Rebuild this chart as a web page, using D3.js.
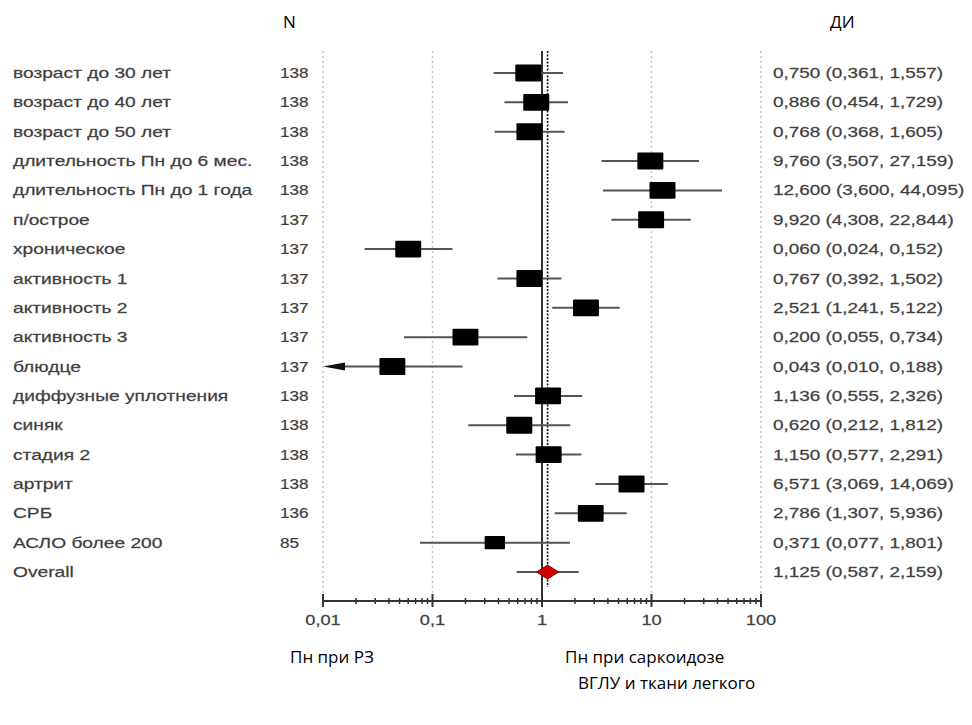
<!DOCTYPE html>
<html>
<head>
<meta charset="utf-8">
<script src="https://cdn.jsdelivr.net/npm/d3@7"></script>
<style>
  body { margin: 0; background: #fff; }
  svg { display: block; }
</style>
</head>
<body>
<svg id="forest" width="972" height="725"></svg>
<script>
// row labels, sample sizes and odds ratios with 95% CI
let labels = ["возраст до 30 лет", "возраст до 40 лет", "возраст до 50 лет",
  "длительность Пн до 6 мес.", "длительность Пн до 1 года", "п/острое", "хроническое",
  "активность 1", "активность 2", "активность 3", "блюдце", "диффузные уплотнения",
  "синяк", "стадия 2", "артрит", "СРБ", "АСЛО более 200", "Overall"];
let nValues = [138, 138, 138, 138, 138, 137, 137, 137, 137, 137, 137, 138, 138, 138, 138, 136, 85, null];
let estimates = [0.750, 0.886, 0.768, 9.760, 12.600, 9.920, 0.060, 0.767, 2.521, 0.200, 0.043,
  1.136, 0.620, 1.150, 6.571, 2.786, 0.371, 1.125];
let lowers = [0.361, 0.454, 0.368, 3.507, 3.600, 4.308, 0.024, 0.392, 1.241, 0.055, 0.010,
  0.555, 0.212, 0.577, 3.069, 1.307, 0.077, 0.587];
let uppers = [1.557, 1.729, 1.605, 27.159, 44.095, 22.844, 0.152, 1.502, 5.122, 0.734, 0.188,
  2.326, 1.812, 2.291, 14.069, 5.936, 1.801, 2.159];
let tickValues = [0.01, 0.1, 1, 10, 100];
let tickLabels = ["0,01", "0,1", "1", "10", "100"];

let chart = {
  "left": 323,
  "right": 761,
  "top": 51,
  "firstRow": 73,
  "lastRow": 572,
  "axisY": 601
};

let svg = d3.select("#forest");
let labelFont = "'Liberation Sans', Arial, sans-serif";
let titleFont = "'Open Sans', 'Noto Sans', sans-serif";

let x = d3.scaleLog()
  .domain([0.01, 100])
  .range([chart.left, chart.right]);

let y = d3.scalePoint()
  .domain(d3.range(labels.length))
  .range([chart.firstRow, chart.lastRow]);

let boxScale = d3.scaleSqrt()
  .domain([0, 138])
  .range([0, 26]);

let fmt = function(v) { return d3.format(".3f")(v).replace(".", ","); };

// the source picture is stretched sideways, so the small text is too
function smallText(px, py, txt, stretch, anchor) {
  return svg.append("text")
    .attr("transform", "translate(" + px + "," + py + ") scale(" + stretch + ",1)")
    .attr("dy", "0.36em")
    .text(txt)
    .style("text-anchor", anchor || "start")
    .style("font-family", labelFont)
    .style("font-size", "14px")
    .style("fill", "#3a3a3a")
    .style("stroke", "#555")
    .style("stroke-width", 0.25);
}

// vertical dotted grid at decades
for (var t of tickValues) {
  if (t === 1) continue;
  svg.append("line")
    .attr("x1", x(t)).attr("x2", x(t))
    .attr("y1", chart.top).attr("y2", chart.axisY - 2)
    .style("stroke", "#c4c4c4")
    .style("stroke-width", 1.5)
    .style("stroke-dasharray", "2,3");
}

// line of no effect
svg.append("line")
  .attr("x1", x(1)).attr("x2", x(1))
  .attr("y1", chart.top).attr("y2", chart.axisY + 6)
  .style("stroke", "#333")
  .style("stroke-width", 2);

// overall estimate dotted line
let overall = labels.length - 1;
svg.append("line")
  .attr("x1", x(estimates[overall])).attr("x2", x(estimates[overall]))
  .attr("y1", chart.top).attr("y2", chart.axisY - 14)
  .style("stroke", "#111")
  .style("stroke-width", 1.6)
  .style("stroke-dasharray", "2,1.5");

// rows
labels.forEach(function(lab, i) {
  let cy = y(i);

  smallText(13, cy, lab, 1.37);
  if (nValues[i] !== null) smallText(280, cy, nValues[i], 1.22);
  smallText(773, cy, fmt(estimates[i]) + " (" + fmt(lowers[i]) + ", " + fmt(uppers[i]) + ")", 1.35);

  // confidence interval
  let lo = Math.max(lowers[i], 0.01);
  let arrow = lowers[i] <= 0.01;
  svg.append("line")
    .attr("x1", arrow ? x(lo) + 20 : x(lo))
    .attr("x2", x(Math.min(uppers[i], 100)))
    .attr("y1", cy).attr("y2", cy)
    .style("stroke", "#555")
    .style("stroke-width", 2);
  if (arrow) {
    svg.append("path")
      .attr("d", "M" + x(lo) + "," + cy + "L" + (x(lo) + 22) + "," + (cy - 4) +
        "L" + (x(lo) + 22) + "," + (cy + 4) + "Z")
      .style("fill", "#111");
  }

  if (i === overall) {
    let cx = x(estimates[i]);
    svg.append("path")
      .attr("d", "M" + (cx - 11) + "," + cy + "L" + cx + "," + (cy - 7) +
        "L" + (cx + 11) + "," + cy + "L" + cx + "," + (cy + 7) + "Z")
      .style("fill", "#d40000")
      .style("stroke", "#7a0000")
      .style("stroke-width", 1);
  } else {
    let w = boxScale(nValues[i]);
    let h = w * 0.65;
    svg.append("rect")
      .attr("x", x(estimates[i]) - w / 2)
      .attr("y", cy - h / 2)
      .attr("width", w)
      .attr("height", h)
      .attr("rx", 1)
      .style("fill", "#000");
  }
});

// log axis with major and minor ticks
let minorTicks = [];
for (var d = 0; d < 4; d++) {
  for (var m = 2; m <= 9; m++) minorTicks.push(m * tickValues[d]);
}
let axisG = svg.append("g")
  .attr("transform", "translate(0," + chart.axisY + ")");
axisG.append("line")
  .attr("x1", x(0.01)).attr("x2", x(100))
  .style("stroke", "#333")
  .style("stroke-width", 2);
axisG.selectAll(".minor")
  .data(minorTicks)
  .enter().append("line")
  .attr("class", "minor")
  .attr("x1", d => x(d)).attr("x2", d => x(d))
  .attr("y1", -3).attr("y2", 3)
  .style("stroke", "#333")
  .style("stroke-width", 1.5);
axisG.selectAll(".major")
  .data(tickValues)
  .enter().append("line")
  .attr("class", "major")
  .attr("x1", d => x(d)).attr("x2", d => x(d))
  .attr("y1", -7).attr("y2", 6)
  .style("stroke", "#333")
  .style("stroke-width", 2);
tickValues.forEach(function(t, i) {
  smallText(x(t), chart.axisY + 19, tickLabels[i], 1.3, "middle");
});

// column headers
svg.append("text")
  .attr("x", 283).attr("y", 28)
  .text("N")
  .style("font-family", titleFont)
  .style("font-size", "17px")
  .style("fill", "#000");
svg.append("text")
  .attr("x", 830).attr("y", 28)
  .text("ДИ")
  .style("font-family", titleFont)
  .style("font-size", "17px")
  .style("fill", "#000");

// bottom captions
svg.append("text")
  .attr("x", 290).attr("y", 663)
  .text("Пн при РЗ")
  .style("font-family", titleFont)
  .style("font-size", "17px")
  .style("fill", "#000");
svg.append("text")
  .attr("x", 565).attr("y", 663)
  .text("Пн при саркоидозе")
  .style("font-family", titleFont)
  .style("font-size", "17px")
  .style("fill", "#000");
svg.append("text")
  .attr("x", 578).attr("y", 689)
  .text("ВГЛУ и ткани легкого")
  .style("font-family", titleFont)
  .style("font-size", "17px")
  .style("fill", "#000");
</script>
</body>
</html>
